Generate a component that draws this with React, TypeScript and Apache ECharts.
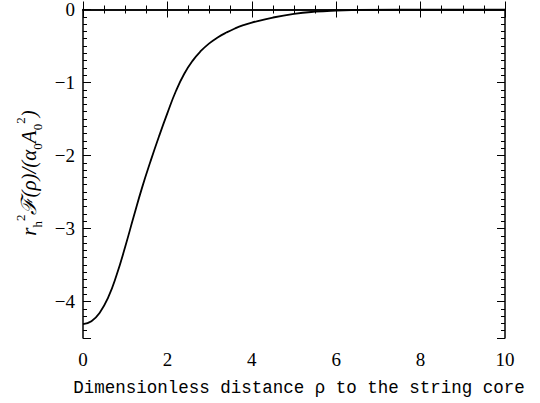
import React, { useEffect, useRef } from "react";
import * as echarts from "echarts";

const rho = [0, 0.2, 0.4, 0.6, 0.8, 1.0, 1.2, 1.4, 1.6, 1.8, 2.0, 2.2, 2.4, 2.6, 2.8, 3.0, 3.2, 3.4, 3.6, 3.8, 4.0, 4.5, 5.0, 5.5, 6.0, 6.5, 7.0, 8.0, 9.0, 10.0];
const fVal = [-4.31, -4.27, -4.15, -3.94, -3.63, -3.25, -2.84, -2.44, -2.08, -1.74, -1.42, -1.12, -0.88, -0.7, -0.565, -0.46, -0.38, -0.315, -0.26, -0.215, -0.18, -0.11, -0.06, -0.03, -0.014, -0.006, -0.002, 0, 0, 0];

const xTicks = [0, 2, 4, 6, 8, 10];
const yTicks = [0, -1, -2, -3, -4];

const X_MIN = 0, X_MAX = 10, Y_MIN = -4.5, Y_MAX = 0;

export default function App() {
  const ref = useRef<HTMLDivElement>(null);
  useEffect(() => {
    if (!ref.current) return;
    const chart = echarts.init(ref.current, null, { renderer: "svg" });
    const axisLine = { show: true, lineStyle: { color: "#000", width: 1.5 } };
    const serif = "Liberation Serif";
    const option: any = {
      animation: false,
      backgroundColor: "#fff",
      grid: { left: 83, top: 5, right: 35, bottom: 65, containLabel: false },
      xAxis: [
        {
          type: "value", min: X_MIN, max: X_MAX, interval: 2, position: "bottom",
          axisLine, splitLine: { show: false },
          axisTick: { show: true, inside: true, length: 8, lineStyle: { color: "#000", width: 1 } },
          minorTick: { show: true, splitNumber: 4, length: 4, lineStyle: { color: "#000", width: 1 } },
          axisLabel: {
            show: true, margin: 12, color: "#000", fontFamily: serif, fontSize: 19,
            formatter: (v: number) => (xTicks.includes(v) ? String(v) : ""),
          },
        },
        {
          type: "value", min: X_MIN, max: X_MAX, interval: 2, position: "top",
          axisLine, splitLine: { show: false },
          axisTick: { show: true, inside: true, length: 8, lineStyle: { color: "#000", width: 1 } },
          minorTick: { show: true, splitNumber: 4, length: 4, lineStyle: { color: "#000", width: 1 } },
          axisLabel: { show: false },
        },
      ],
      yAxis: [
        {
          type: "value", min: Y_MIN, max: Y_MAX, splitNumber: 4, position: "left",
          axisLine, splitLine: { show: false },
          axisTick: { show: true, inside: true, length: 8, lineStyle: { color: "#000", width: 1 } },
          axisLabel: {
            show: true, margin: 8, color: "#000", fontFamily: serif, fontSize: 19,
            formatter: (v: number) => (yTicks.includes(v) ? String(v).replace("-", "\u2212") : ""),
          },
        },
        {
          type: "value", min: Y_MIN, max: Y_MAX, interval: 0.1, position: "left",
          axisLine: { show: false }, splitLine: { show: false },
          axisTick: { show: true, inside: true, length: 4, lineStyle: { color: "#000", width: 1 } },
          axisLabel: { show: false },
        },
        {
          type: "value", min: Y_MIN, max: Y_MAX, splitNumber: 4, position: "right",
          axisLine, splitLine: { show: false },
          axisTick: { show: true, inside: true, length: 8, lineStyle: { color: "#000", width: 1 } },
          axisLabel: { show: false },
        },
        {
          type: "value", min: Y_MIN, max: Y_MAX, interval: 0.1, position: "right",
          axisLine: { show: false }, splitLine: { show: false },
          axisTick: { show: true, inside: true, length: 4, lineStyle: { color: "#000", width: 1 } },
          axisLabel: { show: false },
        },
      ],
      series: [
        {
          type: "line",
          xAxisIndex: 0,
          yAxisIndex: 0,
          data: rho.map((r, i) => [r, fVal[i]]),
          smooth: 0.5,
          showSymbol: false,
          symbol: "none",
          lineStyle: { color: "#000", width: 1.8 },
          clip: true,
        },
      ],
      graphic: [
        {
          type: "text",
          x: 299,
          y: 388,
          style: {
            text: "Dimensionless distance \u03c1 to the string core",
            fontFamily: "Liberation Mono",
            fontSize: 17.5,
            fill: "#000",
            align: "center",
            verticalAlign: "middle",
          },
        },
        {
          type: "text",
          x: 29,
          y: 173,
          rotation: Math.PI / 2,
          style: {
            text: "{i|r}{sub|h}{sup|2}{i|\u2131(\u03c1)/(\u03b1}{sub|0}{i|A}{sub|0}{sup|2}{i|)}",
            align: "center",
            verticalAlign: "middle",
            fill: "#000",
            rich: {
              i: { fontFamily: serif, fontStyle: "italic", fontSize: 21, lineHeight: 30, fill: "#000" },
              sub: { fontFamily: serif, fontSize: 13, lineHeight: 13, verticalAlign: "bottom", fill: "#000" },
              sup: { fontFamily: serif, fontSize: 13, lineHeight: 13, verticalAlign: "top", fill: "#000" },
            },
          },
        },
      ],
    };
    chart.setOption(option);
    return () => chart.dispose();
  }, []);
  return <div ref={ref} style={{ width: 540, height: 403, position: "absolute", left: 0, top: 0 }} />;
}
